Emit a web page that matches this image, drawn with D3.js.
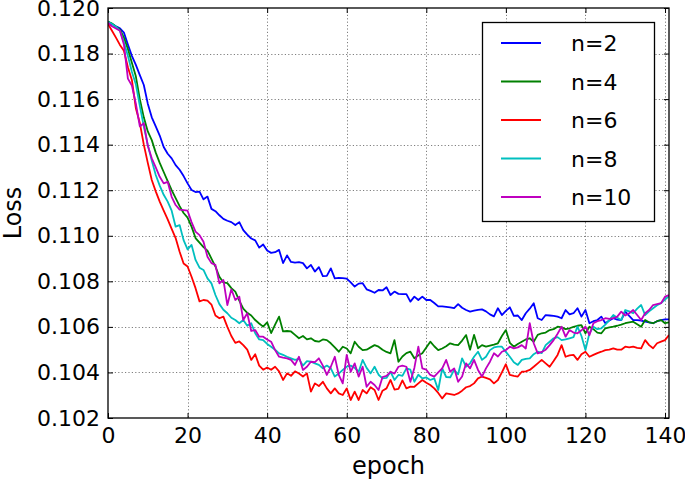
<!DOCTYPE html>
<html>
<head>
<meta charset="utf-8">
<script src="https://cdn.jsdelivr.net/npm/d3@7"></script>
<style>
  html, body { margin: 0; padding: 0; background: #fff; }
  svg { display: block; }
  text { font-family: "DejaVu Sans", sans-serif; fill: #000; }
</style>
</head>
<body>
<svg id="chart" width="685" height="482"></svg>
<script>
// ---- data ----
const seriesNames = ["n=2", "n=4", "n=6", "n=8", "n=10"];
const seriesColors = ["#0000ff", "#008000", "#ff0000", "#00bfbf", "#bf00bf"];
const xTicks = [0, 20, 40, 60, 80, 100, 120, 140];
const yTicks = [0.102, 0.104, 0.106, 0.108, 0.110, 0.112, 0.114, 0.116, 0.118, 0.120];

const lossN2 = [
0.11940,0.11930,0.11920,0.11911,0.11892,0.11840,0.11790,0.11750,0.11705,0.11662,
0.11580,0.11520,0.11480,0.11440,0.11390,0.11360,0.11340,0.11310,0.11290,0.11262,
0.11230,0.11201,0.11192,0.11194,0.11160,0.11172,0.11118,0.11108,0.11090,0.11074,
0.11066,0.11060,0.11047,0.11060,0.11025,0.11005,0.10988,0.10980,0.10948,0.10962,
0.10935,0.10925,0.10928,0.10938,0.10880,0.10914,0.10885,0.10882,0.10884,0.10880,
0.10857,0.10872,0.10843,0.10862,0.10823,0.10824,0.10857,0.10813,0.10815,0.10814,
0.10812,0.10795,0.10777,0.10790,0.10792,0.10765,0.10758,0.10750,0.10762,0.10760,
0.10774,0.10740,0.10755,0.10745,0.10744,0.10744,0.10711,0.10733,0.10718,0.10733,
0.10718,0.10718,0.10705,0.10690,0.10690,0.10688,0.10686,0.10682,0.10700,0.10684,
0.10674,0.10667,0.10671,0.10675,0.10677,0.10668,0.10655,0.10646,0.10682,0.10652,
0.10670,0.10686,0.10648,0.10650,0.10630,0.10660,0.10680,0.10704,0.10638,0.10630,
0.10652,0.10650,0.10648,0.10645,0.10638,0.10674,0.10655,0.10660,0.10682,0.10645,
0.10674,0.10616,0.10625,0.10630,0.10645,0.10616,0.10628,0.10638,0.10632,0.10630,
0.10667,0.10648,0.10630,0.10630,0.10628,0.10623,0.10620,0.10616,0.10625,0.10630,
0.10633,0.10633];

const lossN4 = [
0.11940,0.11932,0.11918,0.11905,0.11870,0.11820,0.11760,0.11700,0.11600,0.11520,
0.11458,0.11420,0.11365,0.11320,0.11280,0.11240,0.11200,0.11165,0.11130,0.11100,
0.11080,0.11040,0.10990,0.10970,0.10950,0.10935,0.10900,0.10865,0.10820,0.10795,
0.10792,0.10770,0.10755,0.10715,0.10680,0.10662,0.10650,0.10630,0.10615,0.10601,
0.10620,0.10573,0.10610,0.10645,0.10580,0.10582,0.10580,0.10565,0.10550,0.10560,
0.10545,0.10550,0.10538,0.10535,0.10545,0.10542,0.10528,0.10510,0.10491,0.10513,
0.10505,0.10484,0.10535,0.10513,0.10498,0.10500,0.10510,0.10520,0.10513,0.10500,
0.10490,0.10484,0.10542,0.10447,0.10470,0.10485,0.10491,0.10462,0.10475,0.10484,
0.10510,0.10535,0.10515,0.10498,0.10505,0.10515,0.10528,0.10522,0.10520,0.10540,
0.10564,0.10500,0.10565,0.10506,0.10520,0.10513,0.10518,0.10522,0.10528,0.10560,
0.10586,0.10530,0.10513,0.10525,0.10535,0.10545,0.10550,0.10535,0.10565,0.10572,
0.10575,0.10586,0.10590,0.10601,0.10598,0.10590,0.10594,0.10600,0.10605,0.10608,
0.10572,0.10601,0.10590,0.10575,0.10572,0.10594,0.10598,0.10601,0.10605,0.10610,
0.10616,0.10620,0.10623,0.10612,0.10601,0.10630,0.10620,0.10616,0.10625,0.10630,
0.10616,0.10620];

const lossN6 = [
0.11930,0.11900,0.11870,0.11838,0.11812,0.11740,0.11684,0.11560,0.11495,0.11400,
0.11320,0.11245,0.11195,0.11150,0.11110,0.11072,0.11030,0.10990,0.10930,0.10878,
0.10865,0.10820,0.10770,0.10712,0.10718,0.10715,0.10698,0.10650,0.10638,0.10645,
0.10600,0.10560,0.10530,0.10536,0.10520,0.10500,0.10455,0.10480,0.10430,0.10412,
0.10422,0.10412,0.10425,0.10405,0.10367,0.10396,0.10385,0.10405,0.10395,0.10382,
0.10396,0.10316,0.10352,0.10340,0.10359,0.10330,0.10308,0.10330,0.10308,0.10301,
0.10330,0.10279,0.10316,0.10279,0.10323,0.10308,0.10335,0.10323,0.10279,0.10320,
0.10330,0.10367,0.10325,0.10328,0.10365,0.10330,0.10338,0.10337,0.10352,0.10367,
0.10355,0.10345,0.10330,0.10310,0.10286,0.10308,0.10305,0.10301,0.10308,0.10320,
0.10335,0.10340,0.10352,0.10374,0.10382,0.10376,0.10370,0.10352,0.10367,0.10400,
0.10436,0.10389,0.10385,0.10382,0.10403,0.10405,0.10411,0.10425,0.10440,0.10455,
0.10440,0.10425,0.10450,0.10477,0.10520,0.10469,0.10475,0.10477,0.10455,0.10480,
0.10491,0.10469,0.10477,0.10485,0.10491,0.10498,0.10500,0.10506,0.10500,0.10500,
0.10513,0.10510,0.10513,0.10508,0.10506,0.10542,0.10520,0.10506,0.10528,0.10535,
0.10542,0.10564];

const lossN8 = [
0.11940,0.11930,0.11918,0.11900,0.11850,0.11790,0.11720,0.11665,0.11570,0.11480,
0.11400,0.11330,0.11267,0.11220,0.11180,0.11150,0.11110,0.11040,0.11047,0.10981,
0.10940,0.10960,0.10894,0.10860,0.10850,0.10813,0.10791,0.10740,0.10700,0.10675,
0.10660,0.10640,0.10630,0.10616,0.10630,0.10605,0.10616,0.10572,0.10545,0.10542,
0.10525,0.10513,0.10500,0.10484,0.10477,0.10469,0.10462,0.10455,0.10460,0.10430,
0.10450,0.10447,0.10440,0.10433,0.10418,0.10430,0.10418,0.10382,0.10395,0.10411,
0.10425,0.10430,0.10420,0.10403,0.10455,0.10420,0.10396,0.10425,0.10390,0.10374,
0.10376,0.10403,0.10367,0.10389,0.10385,0.10418,0.10412,0.10359,0.10390,0.10374,
0.10378,0.10367,0.10374,0.10323,0.10418,0.10380,0.10378,0.10411,0.10392,0.10462,
0.10425,0.10440,0.10469,0.10491,0.10455,0.10469,0.10498,0.10510,0.10513,0.10513,
0.10490,0.10469,0.10445,0.10433,0.10455,0.10460,0.10462,0.10480,0.10491,0.10485,
0.10520,0.10535,0.10550,0.10555,0.10542,0.10545,0.10550,0.10555,0.10601,0.10560,
0.10498,0.10572,0.10601,0.10590,0.10594,0.10610,0.10630,0.10652,0.10640,0.10630,
0.10674,0.10668,0.10660,0.10680,0.10696,0.10652,0.10668,0.10682,0.10695,0.10704,
0.10720,0.10735];

const lossN10 = [
0.11935,0.11920,0.11910,0.11900,0.11840,0.11690,0.11660,0.11580,0.11480,0.11494,
0.11395,0.11340,0.11300,0.11259,0.11230,0.11237,0.11171,0.11135,0.11115,0.11113,
0.11110,0.11060,0.11018,0.11003,0.10974,0.10908,0.10880,0.10872,0.10791,0.10806,
0.10696,0.10765,0.10718,0.10733,0.10630,0.10660,0.10582,0.10586,0.10557,0.10557,
0.10545,0.10535,0.10498,0.10469,0.10465,0.10462,0.10455,0.10433,0.10469,0.10411,
0.10425,0.10447,0.10445,0.10462,0.10430,0.10389,0.10425,0.10469,0.10389,0.10352,
0.10477,0.10403,0.10440,0.10382,0.10425,0.10337,0.10359,0.10345,0.10323,0.10380,
0.10385,0.10403,0.10395,0.10425,0.10430,0.10425,0.10359,0.10420,0.10513,0.10418,
0.10412,0.10389,0.10382,0.10400,0.10418,0.10455,0.10403,0.10418,0.10359,0.10382,
0.10440,0.10418,0.10455,0.10411,0.10382,0.10418,0.10447,0.10484,0.10470,0.10491,
0.10498,0.10513,0.10506,0.10510,0.10520,0.10505,0.10616,0.10528,0.10484,0.10490,
0.10500,0.10520,0.10542,0.10570,0.10601,0.10557,0.10586,0.10575,0.10572,0.10585,
0.10601,0.10564,0.10616,0.10625,0.10630,0.10638,0.10635,0.10638,0.10645,0.10667,
0.10650,0.10660,0.10674,0.10652,0.10630,0.10660,0.10674,0.10696,0.10700,0.10704,
0.10733,0.10740];

const seriesValues = [lossN2, lossN4, lossN6, lossN8, lossN10];

// ---- layout ----
const svg = d3.select("#chart");
const L = 108, R = 669, T = 8, B = 418;
const x = d3.scaleLinear().domain([0, 141]).range([L, R]);
const y = d3.scaleLinear().domain([0.102, 0.120]).range([B, T]);

// grid
const grid = svg.append("g");
grid.selectAll("line.gx").data(xTicks.filter(d => d > 0 && d < 141)).enter().append("line")
  .attr("x1", d => Math.round(x(d)) + 0.5).attr("x2", d => Math.round(x(d)) + 0.5)
  .attr("y1", T).attr("y2", B)
  .attr("stroke", "#7f7f7f").attr("stroke-width", 1).attr("stroke-dasharray", "1.2,2.2");
grid.selectAll("line.gy").data(yTicks.filter(d => d > 0.1021 && d < 0.1199)).enter().append("line")
  .attr("y1", d => Math.round(y(d)) + 0.5).attr("y2", d => Math.round(y(d)) + 0.5)
  .attr("x1", L).attr("x2", R)
  .attr("stroke", "#7f7f7f").attr("stroke-width", 1).attr("stroke-dasharray", "1.2,2.2");

// lines
const clip = svg.append("clipPath").attr("id", "plotclip").append("rect")
  .attr("x", L).attr("y", T).attr("width", R - L).attr("height", B - T);
const lineGen = d3.line().x((d, i) => x(i)).y(d => y(d));
const lines = svg.append("g").attr("clip-path", "url(#plotclip)");
seriesValues.forEach((vals, k) => {
  lines.append("path").datum(vals)
    .attr("d", lineGen)
    .attr("fill", "none")
    .attr("stroke", seriesColors[k])
    .attr("stroke-width", 1.8)
    .attr("stroke-linejoin", "round");
});

// axes (ticks inside, on all four sides)
const tickLen = 5;
const xAxisB = d3.axisBottom(x).tickValues(xTicks).tickSize(-tickLen).tickPadding(9).tickFormat(d3.format("d"));
const xAxisT = d3.axisTop(x).tickValues(xTicks).tickSize(-tickLen).tickFormat("");
const yAxisL = d3.axisLeft(y).tickValues(yTicks).tickSize(-tickLen).tickPadding(8).tickFormat(d3.format(".3f"));
const yAxisR = d3.axisRight(y).tickValues(yTicks).tickSize(-tickLen).tickFormat("");

function styleAxis(g) {
  g.select(".domain").remove();
  g.selectAll(".tick line").attr("stroke", "#000").attr("stroke-width", 1);
  g.selectAll(".tick text").attr("font-family", "DejaVu Sans").attr("font-size", 22).attr("fill", "#000");
}
svg.append("g").attr("transform", `translate(0,${B})`).call(xAxisB).call(styleAxis);
svg.append("g").attr("transform", `translate(0,${T})`).call(xAxisT).call(styleAxis);
svg.append("g").attr("transform", `translate(${L},0)`).call(yAxisL).call(styleAxis);
svg.append("g").attr("transform", `translate(${R},0)`).call(yAxisR).call(styleAxis);

// frame
svg.append("rect").attr("x", L).attr("y", T).attr("width", R - L).attr("height", B - T)
  .attr("fill", "none").attr("stroke", "#000").attr("stroke-width", 1.3);

// axis labels
svg.append("text").attr("x", (L + R) / 2).attr("y", 474).attr("text-anchor", "middle")
  .attr("font-size", 24).text("epoch");
svg.append("text").attr("transform", `translate(21,${(T + B) / 2}) rotate(-90)`)
  .attr("text-anchor", "middle").attr("font-size", 24).text("Loss");

// legend
const leg = svg.append("g");
leg.append("rect").attr("x", 482.5).attr("y", 22.5).attr("width", 172).attr("height", 199)
  .attr("fill", "#fff").attr("stroke", "#000").attr("stroke-width", 1.3);
const rowY = d3.scalePoint().domain(seriesNames).range([43, 197]);
seriesNames.forEach((name, k) => {
  const yy = rowY(name);
  leg.append("line").attr("x1", 501).attr("x2", 541).attr("y1", yy).attr("y2", yy)
    .attr("stroke", seriesColors[k]).attr("stroke-width", 1.8);
  leg.append("text").attr("x", 571).attr("y", yy + 8).attr("font-size", 22).text(name);
});
</script>
</body>
</html>
